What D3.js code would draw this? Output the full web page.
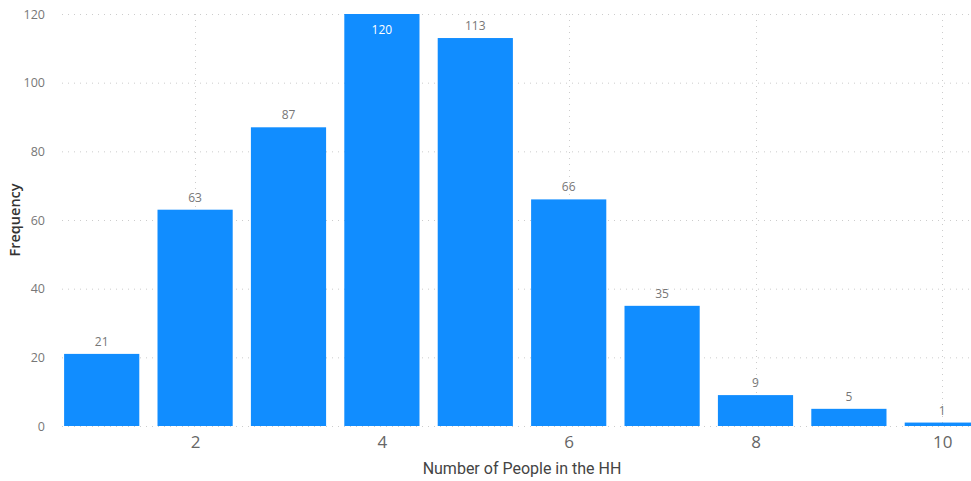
<!DOCTYPE html>
<html>
<head>
<meta charset="utf-8">
<script src="https://cdn.jsdelivr.net/npm/d3@7"></script>
<style>
  html, body { margin: 0; padding: 0; background: #fff; }
  svg { display: block; }
</style>
</head>
<body>
<svg id="chart" width="971" height="481"></svg>
<script>
// Household size distribution
const householdSizes = [1, 2, 3, 4, 5, 6, 7, 8, 9, 10];
const frequencies = [21, 63, 87, 120, 113, 66, 35, 9, 5, 1];
const xTickValues = [2, 4, 6, 8, 10];
const yTickValues = [0, 20, 40, 60, 80, 100, 120];

const width = 971, height = 481;
const margin = { top: 14, right: -18, bottom: 55, left: 55 };
const innerW = width - margin.left - margin.right;
const innerH = height - margin.top - margin.bottom;

const svg = d3.select("#chart");
const font = "'Open Sans', 'Noto Sans', sans-serif";

const g = svg.append("g").attr("transform", `translate(${margin.left},${margin.top})`);

const x = d3.scaleLinear().domain([0.5, 10.5]).range([0, innerW]);
const y = d3.scaleLinear().domain([0, 120]).range([innerH, 0]);
const step = x(2) - x(1);
const barW = step * 0.805;

// Dotted gridlines
const grid = g.append("g");
grid.selectAll("line.h").data(yTickValues).join("line")
  .attr("x1", 7).attr("x2", width)
  .attr("y1", d => y(d) + 0.5).attr("y2", d => y(d) + 0.5)
  .attr("stroke", "#cccccc").attr("stroke-width", 1)
  .attr("stroke-dasharray", "1,5");
grid.selectAll("line.v").data(xTickValues).join("line")
  .attr("x1", d => Math.round(x(d)) + 0.5).attr("x2", d => Math.round(x(d)) + 0.5)
  .attr("y1", 0).attr("y2", innerH)
  .attr("stroke", "#cccccc").attr("stroke-width", 1)
  .attr("stroke-dasharray", "1,5");

// Bars
const data = householdSizes.map((k, i) => ({ k, v: frequencies[i] }));
g.append("g").selectAll("rect").data(data).join("rect")
  .attr("x", d => x(d.k) - barW / 2)
  .attr("y", d => y(d.v))
  .attr("width", barW)
  .attr("height", d => innerH - y(d.v))
  .attr("fill", "#118DFF");

// Data labels (the tallest bar carries its label inside)
g.append("g").selectAll("text").data(data).join("text")
  .attr("x", d => x(d.k))
  .attr("y", d => d.v >= 118 ? y(d.v) + 20 : y(d.v) - 8)
  .attr("text-anchor", "middle")
  .attr("font-family", font)
  .attr("font-size", 12)
  .attr("fill", d => d.v >= 118 ? "#ffffff" : "#777777")
  .text(d => d.v);

// Y axis
const yAxis = g.append("g")
  .call(d3.axisLeft(y).tickValues(yTickValues).tickSize(0).tickPadding(10));
yAxis.select(".domain").remove();
yAxis.selectAll("text")
  .attr("font-family", font).attr("font-size", 12.5).attr("fill", "#777777");

// X axis
const xAxis = g.append("g").attr("transform", `translate(0,${innerH})`)
  .call(d3.axisBottom(x).tickValues(xTickValues).tickFormat(d3.format("d")).tickSize(0).tickPadding(10));
xAxis.select(".domain").remove();
xAxis.selectAll("text")
  .attr("font-family", font).attr("font-size", 17).attr("fill", "#666666");

// Axis titles
svg.append("text")
  .attr("x", 522).attr("y", 474)
  .attr("text-anchor", "middle")
  .attr("font-family", "'Roboto', 'Noto Sans', sans-serif")
  .attr("font-size", 16).attr("fill", "#444444")
  .text("Number of People in the HH");

svg.append("text")
  .attr("transform", "translate(20,220) rotate(-90)")
  .attr("text-anchor", "middle")
  .attr("font-family", font)
  .attr("font-size", 14.5).attr("font-weight", 600).attr("fill", "#333333")
  .text("Frequency");
</script>
</body>
</html>
